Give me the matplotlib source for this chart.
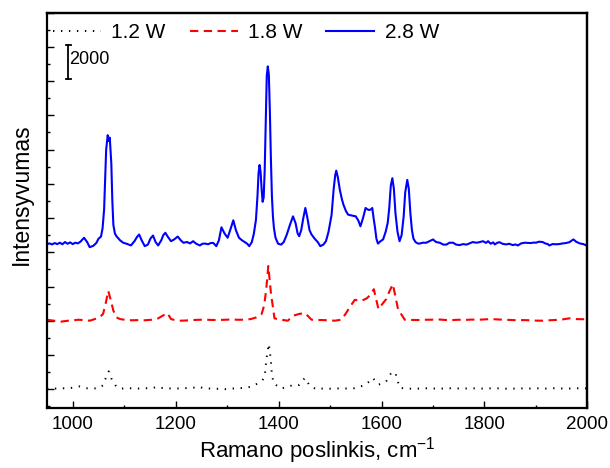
import matplotlib
matplotlib.use("Agg")
import matplotlib.pyplot as plt
from matplotlib.ticker import MultipleLocator, NullFormatter

plt.rcParams['font.family'] = ['Liberation Sans', 'DejaVu Sans']
plt.rcParams['mathtext.fontset'] = 'custom'
plt.rcParams['mathtext.rm'] = 'Liberation Sans'

# ---- data ----
blue_x = [950, 955, 960, 965, 970, 975, 980, 985, 990, 995, 1000, 1005, 1010, 1015, 1022, 1028, 1033, 1040, 1046, 1050,
          1055, 1058, 1061, 1063, 1065, 1068, 1070, 1072, 1075, 1077, 1079, 1082, 1085, 1092, 1098, 1105, 1113, 1120, 1125, 1129,
          1134, 1140, 1146, 1151, 1156, 1161, 1166, 1172, 1176, 1180, 1185, 1191, 1197, 1204, 1210, 1215, 1222, 1228, 1234, 1240,
          1247, 1252, 1257, 1263, 1268, 1273, 1279, 1284, 1289, 1295, 1301, 1306, 1312, 1317, 1323, 1329, 1334, 1339, 1343, 1348,
          1352, 1356, 1359, 1361, 1363, 1365, 1367, 1369, 1371, 1373, 1375, 1377, 1379, 1381, 1383, 1385, 1387, 1389, 1391, 1394,
          1399, 1405, 1410, 1416, 1422, 1428, 1433, 1437, 1440, 1444, 1448, 1452, 1456, 1460, 1464, 1470, 1476, 1481, 1487, 1492,
          1497, 1503, 1507, 1510, 1512, 1515, 1519, 1523, 1526, 1531, 1535, 1542, 1550, 1555, 1559, 1564, 1569, 1573, 1576, 1580,
          1582, 1585, 1587, 1590, 1593, 1598, 1603, 1608, 1612, 1615, 1618, 1621, 1624, 1627, 1631, 1635, 1639, 1643, 1646, 1650,
          1653, 1656, 1659, 1662, 1666, 1670, 1674, 1680, 1687, 1693, 1700, 1706, 1713, 1720, 1726, 1732, 1739, 1745, 1752, 1758,
          1765, 1771, 1777, 1784, 1790, 1797, 1803, 1807, 1812, 1817, 1820, 1825, 1829, 1835, 1842, 1848, 1855, 1860, 1865, 1871,
          1878, 1884, 1890, 1896, 1900, 1906, 1913, 1918, 1923, 1926, 1932, 1939, 1945, 1952, 1958, 1965, 1970, 1973, 1978, 1985,
          1992, 1998, 2000]
blue_y = [8480, 8520, 8460, 8540, 8480, 8560, 8470, 8600, 8500, 8580, 8480, 8560, 8520, 8620, 8850, 8600, 8300, 8380, 8550, 8790,
          8920, 9400, 10500, 12200, 14000, 14840, 14500, 14700, 13200, 11000, 9600, 9100, 8940, 8700, 8560, 8500, 8400, 8650, 8900, 9040,
          8700, 8360, 8450, 8800, 8980, 8600, 8400, 8700, 9000, 9140, 8900, 8650, 8750, 8920, 8700, 8560, 8600, 8520, 8650, 8500,
          8400, 8500, 8510, 8470, 8540, 8550, 8360, 8700, 9460, 9100, 8850, 9300, 9870, 9300, 8850, 8700, 8600, 8500, 8360, 8600,
          9100, 9900, 11300, 12600, 13100, 12700, 11700, 10950, 11200, 12800, 15500, 18300, 18860, 18400, 16300, 13500, 11300, 10100, 9400, 8850,
          8500, 8450, 8600, 9040, 9600, 10100, 9700, 9100, 8940, 9300, 10000, 10590, 10000, 9300, 9040, 8800, 8600, 8360, 8450, 8650,
          9200, 10200, 11700, 12500, 12770, 12400, 11650, 11100, 10780, 10400, 10200, 10150, 10100, 9850, 9520, 10000, 10590, 10500, 10470, 10520,
          10590, 9900, 9520, 8800, 8510, 8650, 8750, 9200, 9720, 10600, 11900, 12330, 11700, 10300, 9200, 8650, 9000, 10100, 11500, 12230,
          11700, 10300, 9300, 8800, 8600, 8520, 8510, 8560, 8560, 8650, 8750, 8600, 8560, 8450, 8450, 8560, 8560, 8450, 8420, 8480,
          8450, 8520, 8600, 8560, 8590, 8650, 8550, 8650, 8500, 8580, 8460, 8560, 8590, 8500, 8460, 8500, 8420, 8460, 8400, 8520,
          8560, 8550, 8540, 8570, 8560, 8620, 8600, 8520, 8480, 8400, 8480, 8470, 8480, 8520, 8540, 8590, 8700, 8750, 8620, 8520,
          8480, 8400, 8420]

red_x = [950, 977, 990, 1011, 1022, 1033, 1043, 1052, 1059, 1064, 1069, 1074, 1079, 1085, 1092, 1103, 1115, 1128, 1140, 1153,
         1166, 1175, 1184, 1191, 1200, 1211, 1222, 1234, 1246, 1257, 1270, 1283, 1296, 1308, 1321, 1334, 1346, 1357, 1367, 1372,
         1376, 1380, 1385, 1392, 1405, 1418, 1428, 1440, 1451, 1458, 1464, 1475, 1483, 1496, 1509, 1522, 1530, 1538, 1548, 1561,
         1571, 1578, 1585, 1594, 1602, 1609, 1615, 1622, 1632, 1645, 1658, 1671, 1684, 1697, 1710, 1723, 1736, 1749, 1762, 1775,
         1788, 1800, 1811, 1825, 1838, 1850, 1863, 1876, 1889, 1900, 1913, 1926, 1939, 1952, 1965, 1978, 1990, 2000]
red_y = [4060, 3950, 4000, 4060, 4040, 4005, 4100, 4200, 4400, 5000, 5750, 5200, 4590, 4200, 4100, 4050, 4030, 4040, 4030, 4060,
         4140, 4300, 4450, 4100, 4030, 4005, 4020, 4045, 4060, 4063, 4050, 4045, 4060, 4075, 4060, 4063, 4100, 4200, 4394, 4900,
         5850, 7200, 5650, 4140, 4063, 4005, 4295, 4400, 4450, 4250, 4063, 4050, 4045, 4030, 4005, 4063, 4400, 4783, 5224, 5166,
         5305, 5500, 5845, 4684, 5000, 5264, 5700, 6135, 4684, 4063, 4050, 4045, 4060, 4063, 4080, 4050, 4040, 4060, 4050, 4070,
         4060, 4080, 4103, 4080, 4060, 4050, 4030, 4040, 4030, 4010, 4005, 4030, 4050, 4080, 4144, 4100, 4090, 4103]

black_x = [950, 965, 977, 990, 1002, 1014, 1026, 1038, 1050, 1059, 1065, 1070, 1076, 1085, 1095, 1108, 1120, 1132, 1144, 1156,
           1164, 1176, 1188, 1200, 1212, 1225, 1237, 1243, 1255, 1268, 1280, 1292, 1299, 1310, 1322, 1334, 1347, 1360, 1368, 1373,
           1376, 1381, 1385, 1387, 1391, 1405, 1418, 1431, 1440, 1451, 1460, 1473, 1485, 1497, 1510, 1522, 1535, 1547, 1557, 1567,
           1576, 1583, 1594, 1603, 1609, 1619, 1627, 1631, 1636, 1648, 1660, 1672, 1685, 1697, 1710, 1722, 1735, 1748, 1760, 1772,
           1785, 1797, 1810, 1822, 1835, 1847, 1860, 1872, 1885, 1897, 1910, 1922, 1935, 1947, 1960, 1972, 1985, 2000]
black_y = [30, 40, 60, 50, 100, 170, 60, 40, 60, 232, 720, 1045, 563, 139, 40, 60, 50, 40, 60, 70,
           150, 60, 50, 40, 60, 70, 100, 157, 60, 40, 30, 20, 0, 40, 60, 80, 150, 350, 500, 720,
           1683, 2652, 1683, 813, 331, 41, 150, 273, 250, 662, 232, 0, 40, 30, 40, 60, 40, 60, 150, 232,
           450, 662, 273, 350, 464, 969, 969, 500, 81, 40, 30, 40, 60, 40, 50, 40, 60, 50, 40, 60,
           50, 40, 50, 60, 40, 30, 40, 50, 40, 60, 50, 40, 60, 50, 40, 50, 60, 50]

labels = ['1.2 W', '1.8 W', '2.8 W']
scale_value = 2000
scale_label = '2000'
x_label = r'Ramano poslinkis, cm$^{\mathregular{-1}}$'
y_label = 'Intensyvumas'

# ---- figure ----
fig = plt.figure(figsize=(6.1, 4.68), dpi=100)
ax = fig.add_axes([0.077, 0.128, 0.886, 0.845])

ax.plot(black_x, black_y, color='black', lw=1.4, linestyle=(0, (0.7, 3.4)), label=labels[0])
ax.plot(red_x, red_y, color='#ff0000', lw=1.5, linestyle=(0, (4.0, 2.6)), label=labels[1])
ax.plot(blue_x, blue_y, color='#0000ff', lw=1.5, label=labels[2])

# scale bar
sb_x = 991
sb_y0 = 18100
ax.plot([sb_x, sb_x], [sb_y0, sb_y0 + scale_value], color='black', lw=1.3)
ax.plot([sb_x - 5, sb_x + 5], [sb_y0, sb_y0], color='black', lw=1.3)
ax.plot([sb_x - 5, sb_x + 5], [sb_y0 + scale_value, sb_y0 + scale_value], color='black', lw=1.3)
ax.text(sb_x + 3, sb_y0 + scale_value / 2 + 150, scale_label, fontsize=13, va='center', ha='left')

ax.set_xlim(950, 2000)
ax.set_ylim(-1100, 22000)

ax.xaxis.set_major_locator(MultipleLocator(200))
ax.xaxis.set_minor_locator(MultipleLocator(100))
ax.yaxis.set_major_locator(MultipleLocator(2000))
ax.yaxis.set_minor_locator(MultipleLocator(1000))
ax.yaxis.set_major_formatter(NullFormatter())

ax.tick_params(which='both', direction='in', top=False, right=False, width=1.0)
ax.tick_params(which='major', length=5)
ax.tick_params(which='minor', length=2.5)
ax.tick_params(axis='x', labelsize=13.5, pad=6)

for s in ax.spines.values():
    s.set_linewidth(1.6)
    s.set_visible(True)
    s.set_color('black')
    s.set_zorder(6)

# explicit top and right edges of the frame
ax.plot([0, 1], [1, 1], transform=ax.transAxes, color='black', lw=1.6, clip_on=False, zorder=6)
ax.plot([1, 1], [0, 1], transform=ax.transAxes, color='black', lw=1.6, clip_on=False, zorder=6)

ax.set_xlabel(x_label, fontsize=16, labelpad=1)
ax.set_ylabel(y_label, fontsize=16.5)
ax.yaxis.set_label_coords(-0.027, 0.54)

ax.legend(loc='upper left', bbox_to_anchor=(-0.012, 1.005), ncol=3, frameon=False,
          fontsize=15, handlelength=2.3, handletextpad=0.5, columnspacing=1.15,
          borderaxespad=0.2)

fig.savefig('out.png', dpi=100)
